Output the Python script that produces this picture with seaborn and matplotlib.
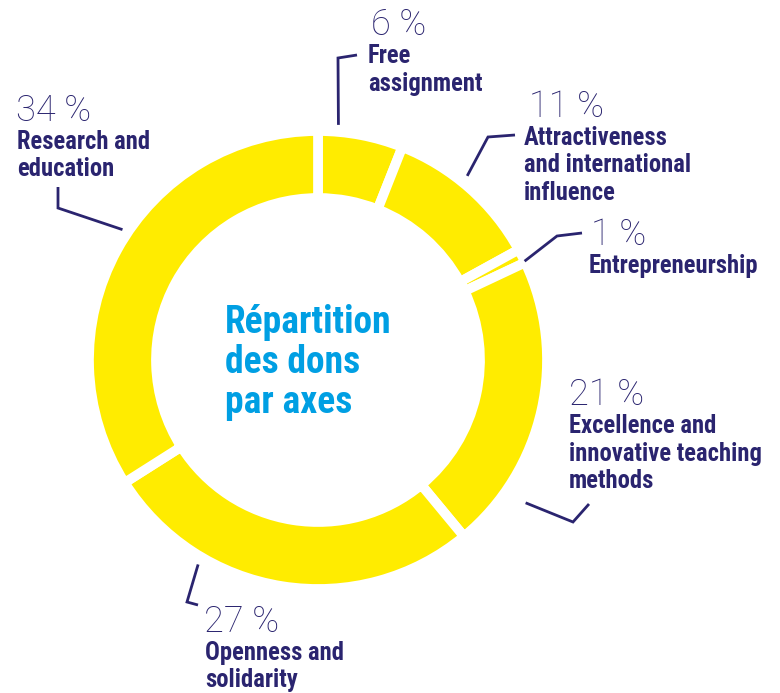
import seaborn as sns
import matplotlib.pyplot as plt
from matplotlib import font_manager as fm
import numpy as np

# share of donations per axis (clockwise from the top)
axes_names = [['Free', 'assignment'],
              ['Attractiveness', 'and international', 'influence'],
              ['Entrepreneurship'],
              ['Excellence and', 'innovative teaching', 'methods'],
              ['Openness and', 'solidarity'],
              ['Research and', 'education']]
shares = [6, 11, 1, 21, 27, 34]
title_lines = ['Répartition', 'des dons', 'par axes']

YELLOW = '#FFEC00'
NAVY = '#2A246F'
BLUE = '#009FE3'

sns.set_theme(style='white')

# look for a narrow bold face for the labels
entries = fm.fontManager.ttflist
names = {f.name for f in entries}
cond = dict(family='DejaVu Sans', stretch='normal')
for fam in ['Liberation Sans Narrow', 'Roboto Condensed', 'Open Sans Condensed']:
    if fam in names:
        cond = dict(family=fam, stretch='normal')
        break
else:
    for f in entries:
        if f.name in ('DejaVu Sans', 'Open Sans', 'Noto Sans') and str(f.stretch) in ('condensed', 'semi-condensed'):
            cond = dict(family=f.name, stretch=f.stretch)
            break

plt.rcParams['font.family'] = [cond['family'], 'DejaVu Sans']

fig = plt.figure(figsize=(7.8, 6.93), dpi=100)
ax = fig.add_axes([0, 0, 1, 1])

cx, cy, R = 318, 360, 229
# y axis is inverted below, so startangle=-90 is the top and counterclock runs clockwise on screen
wedges, _ = ax.pie(shares, colors=[YELLOW] * len(shares), startangle=-90,
                   counterclock=True, center=(cx, cy), radius=R, frame=True,
                   wedgeprops=dict(width=67, edgecolor='white', linewidth=7))
ax.set_xlim(0, 780)
ax.set_ylim(693, 0)
ax.set_aspect('equal')
ax.axis('off')

# label layout: percent x and baseline, label x, where on the wedge the leader starts,
# leader radius, elbow and end point
layout = [
    dict(tx=371, ty=35, lx=368, frac=0.23, r=236, elbow=(338, 58), end=(357, 55)),
    dict(tx=529, ty=117, lx=524, frac=0.44, r=237, elbow=(488, 137), end=(515, 135)),
    dict(tx=591, ty=245, lx=589, frac=0.9, r=229, elbow=(557, 236), end=(582, 233)),
    dict(tx=569, ty=405, lx=569, frac=0.79, r=252, elbow=(573, 522), end=(589, 504)),
    dict(tx=204, ty=632, lx=205, frac=0.72, r=237, elbow=(187, 602), end=(198, 605)),
    dict(tx=16, ty=121, lx=17, frac=0.54, r=235, elbow=(58, 208), end=(58, 187)),
]

for w, name, pct, lay in zip(wedges, axes_names, shares, layout):
    a = np.deg2rad(w.theta1 + lay['frac'] * (w.theta2 - w.theta1))
    sx, sy = cx + lay['r'] * np.cos(a), cy + lay['r'] * np.sin(a)
    ax.plot([sx, lay['elbow'][0], lay['end'][0]], [sy, lay['elbow'][1], lay['end'][1]],
            color=NAVY, lw=2, solid_capstyle='butt', solid_joinstyle='miter')
    ax.text(lay['tx'], lay['ty'], f'{pct} %', color=NAVY, fontsize=26,
            family=['Roboto', 'DejaVu Sans'], fontweight='light', va='baseline', ha='left')
    for i, line in enumerate(name):
        ax.text(lay['lx'], lay['ty'] + 28 + 27.5 * i, line, color=NAVY, fontsize=17.7,
                fontweight='bold', fontstretch=cond['stretch'], va='baseline', ha='left')

for i, line in enumerate(title_lines):
    ax.text(225, 333 + 40 * i, line, color=BLUE, fontsize=27,
            fontweight='bold', fontstretch=cond['stretch'], va='baseline', ha='left')

fig.savefig('out.png', dpi=100)
